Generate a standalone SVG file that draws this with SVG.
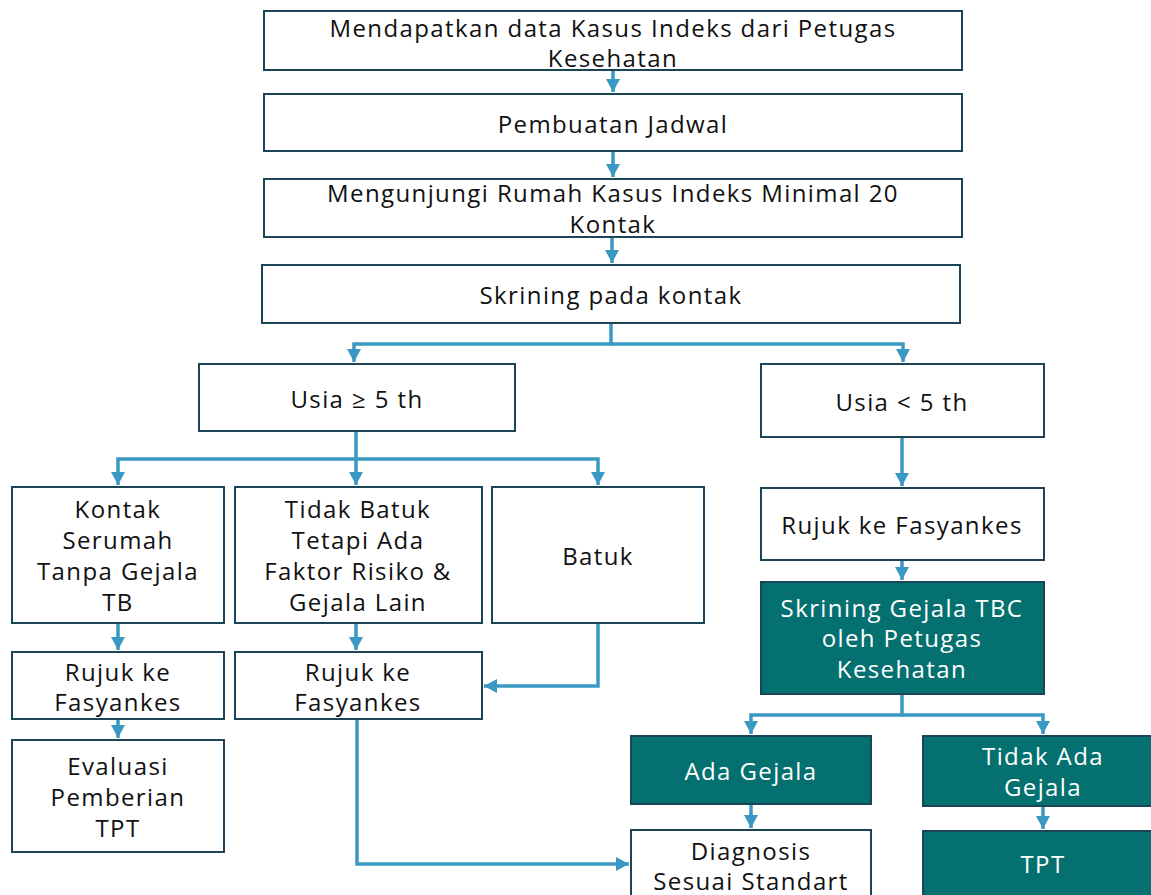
<svg xmlns="http://www.w3.org/2000/svg" width="1151" height="895" viewBox="0 0 1151 895">
<defs>
<marker id="ah" markerUnits="userSpaceOnUse" markerWidth="16" markerHeight="14" refX="13" refY="7" orient="auto">
<path d="M0,0 L13,7 L0,14 Z" fill="#3a99c2"/>
</marker>
<style>
.b{fill:#ffffff;stroke:#1b4556;stroke-width:2}
.t{fill:#04706f;stroke:#1b4556;stroke-width:2}
.c{fill:none;stroke:#3a99c2;stroke-width:3.5}
text{font-family:"Open Sans","DejaVu Sans",sans-serif;font-size:24px;letter-spacing:1.4px;text-anchor:middle;fill:#111111}
.w{fill:#ffffff}
</style>
</defs>
<rect width="1151" height="895" fill="#ffffff"/>
<g id="connectors">
<path class="c" d="M613,70 V92" marker-end="url(#ah)"/>
<path class="c" d="M613,151 V177" marker-end="url(#ah)"/>
<path class="c" d="M612,237 V263" marker-end="url(#ah)"/>
<path class="c" d="M611,323 V344 H354 V362" marker-end="url(#ah)"/>
<path class="c" d="M611,344 H903 V362" marker-end="url(#ah)"/>
<path class="c" d="M356,431 V459 H118 V485" marker-end="url(#ah)"/>
<path class="c" d="M356,459 V485" marker-end="url(#ah)"/>
<path class="c" d="M356,459 H598 V485" marker-end="url(#ah)"/>
<path class="c" d="M118,623 V650" marker-end="url(#ah)"/>
<path class="c" d="M118,719 V738" marker-end="url(#ah)"/>
<path class="c" d="M356,623 V650" marker-end="url(#ah)"/>
<path class="c" d="M598,623 V686 H484" marker-end="url(#ah)"/>
<path class="c" d="M357,719 V864 H629" marker-end="url(#ah)"/>
<path class="c" d="M902,437 V486" marker-end="url(#ah)"/>
<path class="c" d="M902,560 V580" marker-end="url(#ah)"/>
<path class="c" d="M902,694 V715 H751 V734" marker-end="url(#ah)"/>
<path class="c" d="M902,715 H1043 V734" marker-end="url(#ah)"/>
<path class="c" d="M751,804 V828" marker-end="url(#ah)"/>
<path class="c" d="M1043,806 V829" marker-end="url(#ah)"/>
</g>
<g id="n1"><rect class="b" x="264" y="11" width="698" height="59"/><text x="613" y="37">Mendapatkan data Kasus Indeks dari Petugas</text><text x="613" y="67">Kesehatan</text></g>
<g id="n2"><rect class="b" x="264" y="94" width="698" height="57"/><text x="613" y="133">Pembuatan Jadwal</text></g>
<g id="n3"><rect class="b" x="264" y="179" width="698" height="58"/><text x="613" y="202">Mengunjungi Rumah Kasus Indeks Minimal 20</text><text x="613" y="233">Kontak</text></g>
<g id="n4"><rect class="b" x="262" y="265" width="698" height="58"/><text x="611" y="304">Skrining pada kontak</text></g>
<g id="n5"><rect class="b" x="199" y="364" width="316" height="67"/><text x="357" y="408">Usia ≥ 5 th</text></g>
<g id="n6"><rect class="b" x="761" y="364" width="283" height="73"/><text x="902" y="411">Usia &lt; 5 th</text></g>
<g id="n7"><rect class="b" x="12" y="487" width="212" height="136"/><text x="118" y="518">Kontak</text><text x="118" y="549">Serumah</text><text x="118" y="580">Tanpa Gejala</text><text x="118" y="611">TB</text></g>
<g id="n8"><rect class="b" x="235" y="487" width="247" height="136"/><text x="358" y="518">Tidak Batuk</text><text x="358" y="549">Tetapi Ada</text><text x="358" y="580">Faktor Risiko &amp;</text><text x="358" y="611">Gejala Lain</text></g>
<g id="n9"><rect class="b" x="492" y="487" width="212" height="136"/><text x="598" y="565">Batuk</text></g>
<g id="n10"><rect class="b" x="12" y="652" width="212" height="67"/><text x="118" y="681">Rujuk ke</text><text x="118" y="711">Fasyankes</text></g>
<g id="n11"><rect class="b" x="235" y="652" width="247" height="67"/><text x="358" y="681">Rujuk ke</text><text x="358" y="711">Fasyankes</text></g>
<g id="n12"><rect class="b" x="12" y="740" width="212" height="112"/><text x="118" y="775">Evaluasi</text><text x="118" y="806">Pemberian</text><text x="118" y="837">TPT</text></g>
<g id="n13"><rect class="b" x="761" y="488" width="283" height="72"/><text x="902" y="534">Rujuk ke Fasyankes</text></g>
<g id="n14"><rect class="t" x="761" y="582" width="283" height="112"/><text class="w" x="902" y="617">Skrining Gejala TBC</text><text class="w" x="902" y="647">oleh Petugas</text><text class="w" x="902" y="678">Kesehatan</text></g>
<g id="n15"><rect class="t" x="631" y="736" width="240" height="68"/><text class="w" x="751" y="780">Ada Gejala</text></g>
<g id="n16"><rect class="t" x="923" y="736" width="240" height="70"/><text class="w" x="1043" y="765">Tidak Ada</text><text class="w" x="1043" y="796">Gejala</text></g>
<g id="n17"><rect class="b" x="631" y="830" width="240" height="80"/><text x="751" y="860">Diagnosis</text><text x="751" y="890">Sesuai Standart</text></g>
<g id="n18"><rect class="t" x="923" y="831" width="240" height="80"/><text class="w" x="1043" y="873">TPT</text></g>
</svg>
